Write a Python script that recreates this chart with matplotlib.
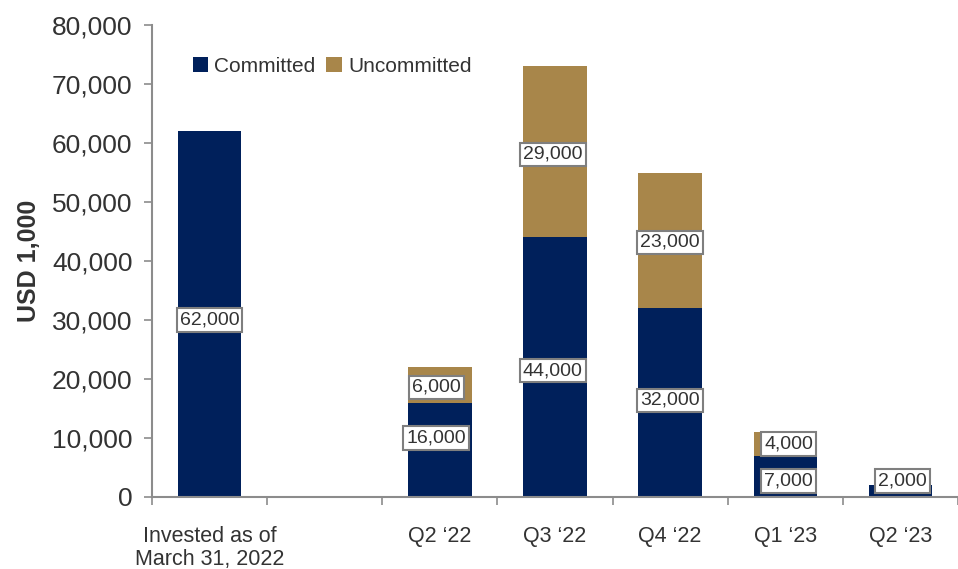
import matplotlib
matplotlib.use("Agg")
import matplotlib.pyplot as plt
from matplotlib import font_manager
import numpy as np

# ---- data ----
categories = ["Invested as of\nMarch 31, 2022", "", "Q2 \u201822", "Q3 \u201822", "Q4 \u201822", "Q1 \u201823", "Q2 \u201823"]
committed = [62000, 0, 16000, 44000, 32000, 7000, 2000]
uncommitted = [0, 0, 6000, 29000, 23000, 4000, 0]
y_ticks = [0, 10000, 20000, 30000, 40000, 50000, 60000, 70000, 80000]

# ---- style ----
NAVY = "#00205B"
GOLD = "#A8864A"
TXT = "#333333"
AX = "#8C8C8C"

names = {f.name for f in font_manager.fontManager.ttflist}
REG = "Liberation Sans" if "Liberation Sans" in names else "DejaVu Sans"

fig = plt.figure(figsize=(9.58, 5.69), dpi=100)
ax = fig.add_axes([152/958, 1-497/569, 1-152/958, (497-25)/569])

x = np.arange(len(categories))
w = 0.55
ax.bar(x, committed, width=w, color=NAVY, label="Committed", zorder=2)
ax.bar(x, uncommitted, width=w, bottom=committed, color=GOLD, label="Uncommitted", zorder=2)

ax.set_xlim(-0.5, (958-152)/117.4 - 0.5)
ax.set_ylim(0, 80000)
ax.set_yticks(y_ticks)
ax.set_yticklabels([f"{v:,}" for v in y_ticks], fontsize=19, family=REG, color=TXT)

# x: ticks at slot boundaries, labels at centers
ax.set_xticks(np.arange(-0.5, len(categories), 1.0))
ax.set_xticklabels([])
ax.set_xticks(x, minor=True)
ax.set_xticklabels(categories, minor=True, fontsize=15.5, family=REG, color=TXT, linespacing=1.1)
ax.tick_params(axis="x", which="minor", length=0, pad=21)
ax.tick_params(axis="x", which="major", length=6, color=AX, width=1.2)
ax.tick_params(axis="y", length=6, color=AX, width=1.2, pad=8)

for s in ["top", "right"]:
    ax.spines[s].set_visible(False)
for s in ["left", "bottom"]:
    ax.spines[s].set_color(AX)
    ax.spines[s].set_linewidth(1.5)

ax.set_ylabel("USD 1,000", fontsize=18, fontweight="bold", family=REG, color=TXT, labelpad=8)

# value labels
nudge_c = [-1000, 0, 2000, -600, 400, -800, 1700]
nudge_u = [0, 0, -400, -400, -300, 0, 0]
shift_x = [0, 0, -0.03, -0.02, 0, 0.03, 0.02]
bbox = dict(boxstyle="square,pad=0.16", fc="white", ec="#7F7F7F", lw=1.5)
for i in range(len(categories)):
    if committed[i] > 0:
        ax.text(x[i] + shift_x[i], committed[i]/2 + nudge_c[i], f"{committed[i]:,}", ha="center", va="center",
                fontsize=14, family=REG, color=TXT, bbox=bbox, zorder=4)
    if uncommitted[i] > 0:
        ax.text(x[i] + shift_x[i], committed[i] + uncommitted[i]/2 + nudge_u[i], f"{uncommitted[i]:,}", ha="center", va="center",
                fontsize=14, family=REG, color=TXT, bbox=bbox, zorder=4)

leg = ax.legend(loc="center left", bbox_to_anchor=(0.04, 0.912), ncol=2, frameon=False,
                prop={"family": REG, "size": 15}, handlelength=0.75, handleheight=0.75,
                handletextpad=0.3, columnspacing=0.5, borderaxespad=0)
for t in leg.get_texts():
    t.set_color(TXT)

fig.savefig("out.png", dpi=100)
